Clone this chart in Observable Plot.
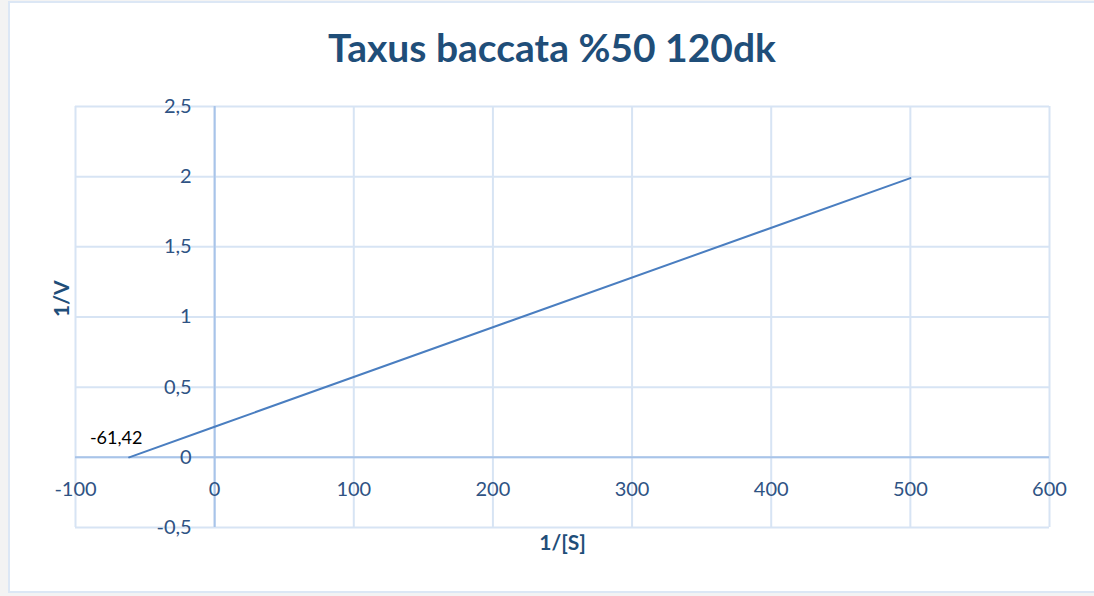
<!DOCTYPE html>
<html>
<head>
<meta charset="utf-8">
<script src="https://cdn.jsdelivr.net/npm/d3@7"></script>
<script src="https://cdn.jsdelivr.net/npm/@observablehq/plot@0.6"></script>
<style>
  html, body { margin: 0; padding: 0; background: #f3f3f3; }
  body { position: relative; width: 1094px; height: 596px; overflow: hidden; font-family: Lato, "Open Sans", sans-serif; }
  #frame { position: absolute; left: 8px; top: 1px; width: 1200px; height: 592px; box-sizing: border-box; border: 2px solid #dce7f5; background: #fff; }
  #title { position: absolute; left: 10px; top: 28px; width: 1084px; text-align: center; font-size: 39px; line-height: 39px; font-weight: 700; color: #1f4e79; }
  #chart { position: absolute; left: 0; top: 80px; }
</style>
</head>
<body>
<div id="frame"></div>
<div id="title">Taxus baccata %50 120dk</div>
<div id="chart"></div>
<script>
// Data
const xValues = [-61.42, 0, 500];
const yValues = [0, 0.218, 1.99];
const xTicks = [-100, 0, 100, 200, 300, 400, 500, 600];
const xTickLabels = ["-100", "0", "100", "200", "300", "400", "500", "600"];
const yTicks = [-0.5, 0, 0.5, 1, 1.5, 2, 2.5];
const yTickLabels = ["-0,5", "0", "0,5", "1", "1,5", "2", "2,5"];
const annotation = [{x: -61.42, y: 0, label: "-61,42"}];

const points = xValues.map((x, i) => ({x, y: yValues[i]}));
const xTickData = xTicks.map((v, i) => ({v, label: xTickLabels[i]}));
const yTickData = yTicks.map((v, i) => ({v, label: yTickLabels[i]}));

const gridColor = "#d7e4f4";
const axisColor = "#a8c4e9";
const labelColor = "#2f5384";

const chart = Plot.plot({
  width: 1094,
  height: 516,
  marginLeft: 75,
  marginRight: 45,
  marginTop: 26,
  marginBottom: 69,
  x: {domain: [-100, 600], axis: null},
  y: {domain: [-0.5, 2.5], axis: null},
  style: {fontFamily: "Lato, 'Open Sans', sans-serif", background: "transparent"},
  marks: [
    Plot.gridX(xTicks, {stroke: gridColor, strokeOpacity: 1, strokeWidth: 2}),
    Plot.gridY(yTicks, {stroke: gridColor, strokeOpacity: 1, strokeWidth: 2}),
    Plot.ruleX([0], {stroke: axisColor, strokeWidth: 2}),
    Plot.ruleY([0], {stroke: axisColor, strokeWidth: 2}),
    Plot.line(points, {x: "x", y: "y", stroke: "#4a7ec0", strokeWidth: 2}),
    Plot.text(xTickData, {x: "v", y: () => 0, text: "label", dy: 32, fill: labelColor, fontSize: 20, textAnchor: "middle"}),
    Plot.text(yTickData, {x: () => 0, y: "v", text: "label", dx: -23, fill: labelColor, fontSize: 20, textAnchor: "end"}),
    Plot.text(annotation, {x: "x", y: "y", text: "label", dx: -13, dy: -19, fill: "#000", fontSize: 18}),
    Plot.text(["1/V"], {frameAnchor: "left", dx: -13, rotate: -90, text: d => d, fill: "#1f4e79", fontSize: 21, fontWeight: "bold"}),
    Plot.text(["1/[S]"], {frameAnchor: "bottom", dy: 22, text: d => d, fill: "#1f4e79", fontSize: 21, fontWeight: "bold"})
  ]
});
document.getElementById("chart").appendChild(chart);
</script>
</body>
</html>
